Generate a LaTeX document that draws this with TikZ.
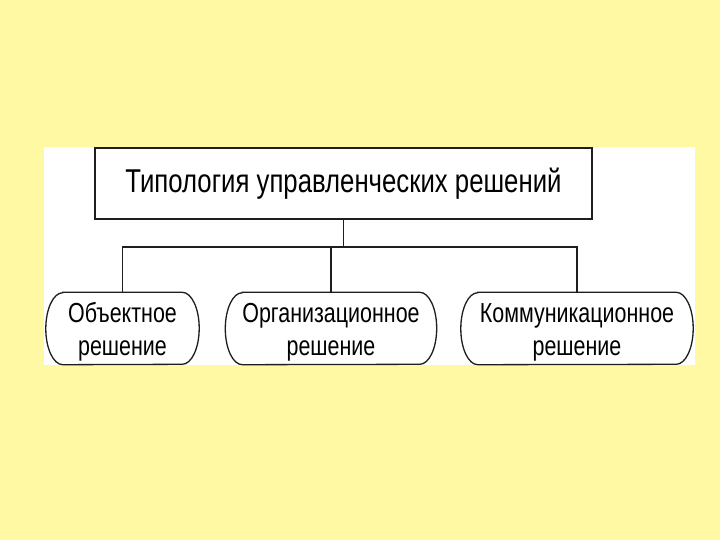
\documentclass[tikz,border=0pt]{standalone}
\usepackage{fontspec}
\setmainfont[FakeStretch=0.78]{Liberation Sans}
\definecolor{bgyellow}{HTML}{FFF9A3}
\definecolor{ink}{HTML}{1E1E1E}
\tikzset{
  topbox/.style={draw=ink, line width=1.4pt, fill=white, minimum width=497pt, minimum height=71pt, inner sep=0pt, font=\fontsize{33}{36}\selectfont},
  leaf/.style={minimum height=72pt, inner sep=0pt, align=center, font=\fontsize{27.5}{33}\selectfont},
  wire/.style={ink, line width=1.4pt},
  shellline/.style={ink, line width=1.3pt}
}
\newcommand{\stadium}[2]{%
  \draw[shellline] ([xshift=#2]#1.north west) -- ([xshift=-#2]#1.north east)
    arc[start angle=90, end angle=-90, x radius=#2, y radius=36pt]
    -- ([xshift=#2]#1.south west)
    arc[start angle=270, end angle=90, x radius=#2, y radius=36pt] -- cycle;}
\begin{document}
\begin{tikzpicture}[x=1pt,y=-1pt]
\fill[bgyellow] (0,0) rectangle (720,540);
\useasboundingbox (0,0) rectangle (720,540);
\fill[white] (44,147) rectangle (695,365);
\node[topbox] (top) at (343.5,183.5) {Типология управленческих решений};
\node[leaf, minimum width=153pt] (n1) at (122.5,328.5) {\rule{0pt}{26pt}Объектное\\решение};
\node[leaf, minimum width=211pt] (n2) at (331,328.5) {\rule{0pt}{26pt}Организационное\\решение};
\node[leaf, minimum width=232pt] (n3) at (577,328.5) {\rule{0pt}{26pt}Коммуникационное\\решение};
\stadium{n1}{17pt}
\stadium{n2}{17pt}
\stadium{n3}{17pt}
\coordinate (bus) at (343,247);
\draw[wire] (top.south) -- (top.south |- bus) -| (n1.north);
\draw[wire] (top.south |- bus) -| (n2.north);
\draw[wire] (top.south |- bus) -| (n3.north);
\end{tikzpicture}
\end{document}
